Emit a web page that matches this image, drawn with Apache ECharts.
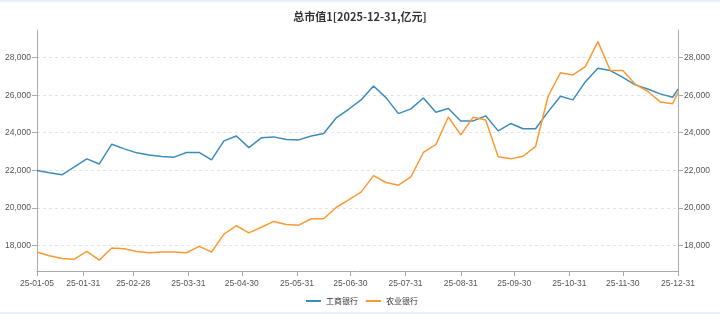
<!DOCTYPE html>
<html>
<head>
<meta charset="utf-8">
<script src="https://cdn.jsdelivr.net/npm/echarts@6/dist/echarts.min.js"></script>
<style>
html,body{margin:0;padding:0;background:#fff;}
#chart{position:absolute;left:0;top:0;width:720px;height:314px;}
.band{position:absolute;left:0;width:720px;background:#e8f0fa;z-index:5;}
</style>
</head>
<body>
<div id="chart"></div>
<div class="band" style="top:0;height:2px;"></div>
<div class="band" style="top:312px;height:2px;"></div>
<script>
const titleText = '总市值1[2025-12-31,亿元]';
const seriesNames = ['工商银行', '农业银行'];
const dates = [
  '2025-01-05','2025-01-12','2025-01-19','2025-01-26','2025-02-02','2025-02-09','2025-02-16','2025-02-23',
  '2025-03-02','2025-03-09','2025-03-16','2025-03-23','2025-03-30','2025-04-06','2025-04-13','2025-04-20',
  '2025-04-27','2025-05-04','2025-05-11','2025-05-18','2025-05-25','2025-06-01','2025-06-08','2025-06-15',
  '2025-06-22','2025-06-29','2025-07-06','2025-07-13','2025-07-20','2025-07-27','2025-08-03','2025-08-10',
  '2025-08-17','2025-08-24','2025-08-31','2025-09-07','2025-09-14','2025-09-21','2025-09-28','2025-10-05',
  '2025-10-12','2025-10-19','2025-10-26','2025-11-02','2025-11-09','2025-11-16','2025-11-23','2025-11-30',
  '2025-12-07','2025-12-14','2025-12-21','2025-12-28','2025-12-31'
];
const icbc = [
  21990,21870,21760,22180,22610,22340,23390,23140,
  22930,22820,22730,22700,22950,22950,22560,23570,
  23830,23210,23730,23780,23640,23620,23830,23960,
  24790,25250,25750,26490,25870,25020,25270,25850,
  25090,25290,24630,24630,24900,24100,24490,24210,
  24210,25110,25940,25750,26720,27430,27310,26950,
  26550,26330,26070,25890,26320
];
const abc = [
  17650,17450,17310,17270,17680,17220,17860,17820,
  17680,17610,17650,17650,17610,17950,17650,18600,
  19050,18670,18970,19280,19120,19080,19420,19420,
  20020,20430,20840,21720,21350,21210,21650,22950,
  23370,24840,23890,24830,24680,22720,22610,22750,
  23270,25930,27200,27080,27520,28850,27310,27310,
  26580,26210,25640,25550,26140
];
const xTickDates = ['2025-01-05','2025-01-31','2025-02-28','2025-03-31','2025-04-30','2025-05-31',
  '2025-06-30','2025-07-31','2025-08-31','2025-09-30','2025-10-31','2025-11-30','2025-12-31'];
const yTicks = [18000, 20000, 22000, 24000, 26000, 28000];
const yMin = 16640, yMax = 29470;

function toTs(s){ const p = s.split('-').map(Number); return Date.UTC(p[0], p[1]-1, p[2]); }
function pad(n){ return (n < 10 ? '0' : '') + n; }
function fmtDate(v){ const d = new Date(v); return pad(d.getUTCFullYear() % 100) + '-' + pad(d.getUTCMonth()+1) + '-' + pad(d.getUTCDate()); }

const xTickTs = xTickDates.map(toTs);
const fontFam = 'Liberation Sans, Arial, sans-serif';

const chart = echarts.init(document.getElementById('chart'), null, {renderer: 'canvas'});

function yAxisDef(pos){
  return {
    type: 'value', position: pos, min: yMin, max: yMax, splitNumber: 6,
    axisLine: {show: true, lineStyle: {color: '#aaa', width: 1}},
    axisTick: {show: true, length: 5, lineStyle: {color: '#aaa'}, customValues: yTicks},
    axisLabel: {
      show: true, color: '#555', fontSize: 8.5, fontFamily: fontFam, margin: 6,
      customValues: yTicks,
      formatter: v => Number(v).toLocaleString('en-US')
    },
    splitLine: {show: pos === 'left',
      lineStyle: {color: '#e3e3e3', type: [3, 3], width: 1}}
  };
}

chart.setOption({
  backgroundColor: '#fff',
  animation: false,
  title: {
    text: titleText, left: 'center', top: 6,
    textStyle: {fontSize: 11, fontWeight: 'bold', color: '#333', fontFamily: 'Noto Sans CJK SC, sans-serif'}
  },
  legend: {
    left: 301, top: 292, itemWidth: 15, itemHeight: 2, itemGap: 8, icon: 'rect',
    textStyle: {fontSize: 8, color: '#333', fontFamily: 'Noto Sans CJK SC, sans-serif'},
    data: seriesNames
  },
  grid: {left: 37, right: 42, top: 30, bottom: 43, containLabel: false},
  xAxis: {
    type: 'value', min: toTs(dates[0]), max: toTs(dates[dates.length-1]),
    axisLine: {show: true, lineStyle: {color: '#aaa', width: 1}},
    axisTick: {show: true, length: 5, lineStyle: {color: '#aaa'}, customValues: xTickTs},
    axisLabel: {color: '#555', fontSize: 8.5, fontFamily: fontFam, margin: 8,
      customValues: xTickTs, formatter: v => fmtDate(v), hideOverlap: false},
    splitLine: {show: false}
  },
  yAxis: [yAxisDef('left'), yAxisDef('right')],
  series: [
    {
      name: seriesNames[0], type: 'line', yAxisIndex: 0, symbol: 'none',
      lineStyle: {width: 1.5, color: '#3a8cbc'}, itemStyle: {color: '#3a8cbc'},
      data: dates.map((d, i) => [toTs(d), icbc[i]])
    },
    {
      name: seriesNames[1], type: 'line', yAxisIndex: 1, symbol: 'none',
      lineStyle: {width: 1.5, color: '#fb9a34'}, itemStyle: {color: '#fb9a34'},
      data: dates.map((d, i) => [toTs(d), abc[i]])
    }
  ]
});
</script>
</body>
</html>
